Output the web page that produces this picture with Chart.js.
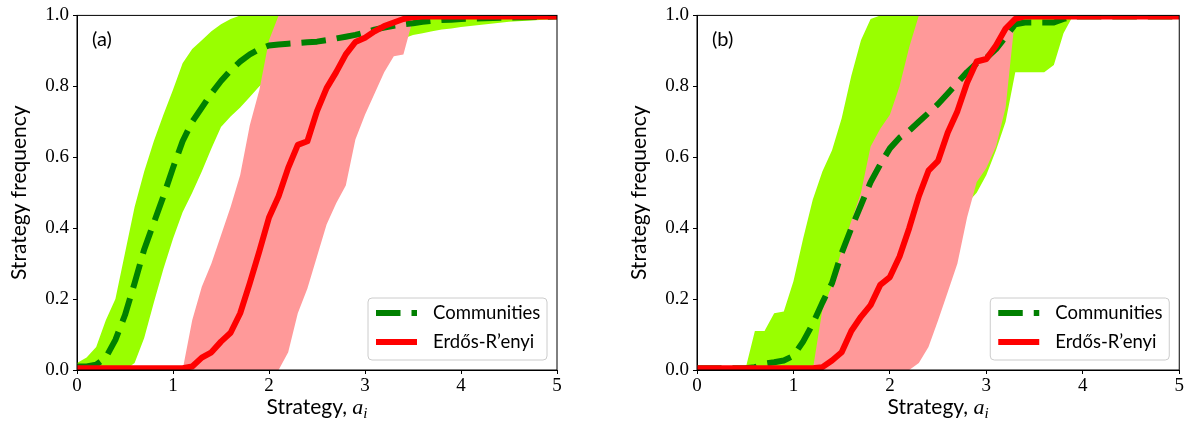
<!DOCTYPE html>
<html>
<head>
<meta charset="utf-8">
<title>Strategy frequency</title>
<script src="https://cdn.jsdelivr.net/npm/chart.js@4.4.1/dist/chart.umd.min.js"></script>
<style>
  html, body { margin:0; padding:0; background:#fff; }
  #wrap { position:relative; width:1185px; height:423px; overflow:hidden; }
  #wrap canvas { position:absolute; top:0; }
  #chartA { left:0; }
  #chartB { left:620px; }
</style>
</head>
<body>
<div id="wrap">
  <canvas id="chartA" width="590" height="423"></canvas>
  <canvas id="chartB" width="565" height="423"></canvas>
</div>
<script>
// strategy grid shared by all curves
const xs = [0,0.1,0.2,0.3,0.4,0.5,0.6,0.7,0.8,0.9,1,1.1,1.2,1.3,1.4,1.5,1.6,1.7,1.8,1.9,2,2.1,2.2,2.3,2.4,2.5,2.6,2.7,2.8,2.9,3,3.1,3.2,3.3,3.4,3.5,3.6,3.7,3.8,3.9,4,4.5,5];
const xTicks = [0,1,2,3,4,5];
const yTicks = [0,0.2,0.4,0.6,0.8,1.0];
const seriesNames = ['Communities', 'Erdős-R’enyi'];

// (a)
const commMeanA = [0.01,0.01,0.015,0.035,0.085,0.155,0.245,0.34,0.415,0.49,0.57,0.645,0.70,0.74,0.78,0.815,0.845,0.87,0.89,0.905,0.915,0.918,0.92,0.922,0.924,0.926,0.93,0.935,0.94,0.945,0.952,0.96,0.966,0.971,0.975,0.978,0.982,0.985,0.987,0.988,0.99,0.994,0.997];
const commUpA   = [0.02,0.035,0.065,0.14,0.2,0.33,0.46,0.56,0.645,0.72,0.79,0.865,0.905,0.93,0.955,0.975,0.99,1,1,1,1,1,1,1,1,1,1,1,1,1,1,1,1,1,1,1,1,1,1,1,1,1,1];
const commLowA  = [0,0,0,0,0,0,0.02,0.09,0.19,0.285,0.37,0.445,0.5,0.56,0.625,0.685,0.715,0.74,0.77,0.8,0.82,0.835,0.85,0.86,0.87,0.88,0.89,0.9,0.905,0.91,0.915,0.92,0.925,0.93,0.935,0.945,0.95,0.955,0.96,0.963,0.967,0.982,0.99];
const erMeanA   = [0.005,0.005,0.005,0.005,0.005,0.005,0.005,0.005,0.005,0.005,0.005,0.005,0.01,0.035,0.05,0.08,0.105,0.16,0.245,0.335,0.43,0.49,0.57,0.635,0.645,0.73,0.795,0.84,0.89,0.925,0.937,0.955,0.97,0.98,0.99,0.995,0.997,0.997,0.997,0.997,0.997,0.997,0.997];
const erUpA     = [0,0,0,0,0,0,0,0,0,0,0,0,0.14,0.235,0.3,0.38,0.46,0.55,0.69,0.79,0.93,1,1,1,1,1,1,1,1,1,1,1,1,1,1,1,1,1,1,1,1,1,1];
const erLowA    = [0,0,0,0,0,0,0,0,0,0,0,0,0,0,0,0,0,0,0,0,0,0,0.05,0.16,0.23,0.32,0.41,0.47,0.52,0.65,0.72,0.78,0.84,0.885,0.89,0.99,1,1,1,1,1,1,1];

// (b)
const commMeanB = [0.005,0.005,0.005,0.005,0.005,0.005,0.008,0.018,0.022,0.027,0.04,0.08,0.13,0.19,0.245,0.33,0.4,0.465,0.53,0.58,0.625,0.655,0.675,0.7,0.725,0.75,0.78,0.81,0.84,0.865,0.88,0.905,0.94,0.975,0.98,0.98,0.98,0.98,0.99,0.997,0.997,0.997,0.997];
const commUpB   = [0,0,0,0,0,0,0.11,0.11,0.16,0.165,0.25,0.37,0.48,0.56,0.62,0.71,0.83,0.93,0.99,1,1,1,1,1,1,1,1,1,1,1,1,1,1,1,1,1,1,1,1,1,1,1,1];
const commLowB  = [0,0,0,0,0,0,0,0,0,0,0,0,0,0.05,0.1,0.15,0.2,0.25,0.3,0.33,0.36,0.38,0.4,0.42,0.43,0.44,0.45,0.46,0.47,0.5,0.55,0.62,0.7,0.84,0.84,0.84,0.84,0.86,0.95,1,1,1,1];
const erMeanB   = [0.005,0.005,0.005,0.005,0.005,0.005,0.005,0.005,0.005,0.005,0.005,0.005,0.005,0.008,0.027,0.05,0.11,0.15,0.183,0.24,0.262,0.32,0.4,0.49,0.562,0.59,0.67,0.73,0.81,0.87,0.877,0.915,0.963,0.99,0.997,0.997,0.997,0.997,0.997,0.997,0.997,0.997,0.997];
const erUpB     = [0,0,0,0,0,0,0,0,0,0,0,0,0,0.17,0.24,0.34,0.42,0.5,0.63,0.68,0.72,0.8,0.91,1,1,1,1,1,1,1,1,1,1,1,1,1,1,1,1,1,1,1,1];
const erLowB    = [0,0,0,0,0,0,0,0,0,0,0,0,0,0,0,0,0,0,0,0,0,0,0,0.02,0.065,0.14,0.22,0.3,0.43,0.53,0.57,0.63,0.74,1,1,1,1,1,1,1,1,1,1];

const SANS = 'Lato';
const SERIF = '"Liberation Serif"';

function pts(vals){ return xs.map((x,i)=>({ x, y: vals[i] })); }

// spines on all four sides, drawn above the data
const framePlugin = {
  id: 'frame',
  afterDatasetsDraw(chart){
    const { ctx, chartArea: a } = chart;
    ctx.save();
    ctx.strokeStyle = '#000';
    ctx.lineWidth = 1;
    ctx.strokeRect(a.left, a.top, a.right - a.left, a.bottom - a.top);
    ctx.restore();
  }
};

// "(a)" / "(b)" tag in the upper left corner
const tagPlugin = {
  id: 'tag',
  afterDraw(chart, args, opts){
    const { ctx, chartArea: a } = chart;
    ctx.save();
    ctx.fillStyle = '#000';
    ctx.font = `20px ${SANS}`;
    ctx.textBaseline = 'middle';
    ctx.fillText(opts.text, a.left + 15, a.top + 24);
    ctx.restore();
  }
};

// x title with an italic a_i
const xTitlePlugin = {
  id: 'xTitle',
  afterDraw(chart){
    const { ctx, chartArea: a } = chart;
    const base = 414;
    ctx.save();
    ctx.fillStyle = '#000';
    ctx.textBaseline = 'alphabetic';
    ctx.font = `21px ${SANS}`;
    const w1 = ctx.measureText('Strategy, ').width;
    ctx.font = `italic 22px ${SERIF}`;
    const w2 = ctx.measureText('a').width;
    ctx.font = `italic 15px ${SERIF}`;
    const w3 = ctx.measureText('i').width;
    let x = (a.left + a.right) / 2 - (w1 + w2 + w3) / 2;
    ctx.font = `21px ${SANS}`;
    ctx.fillText('Strategy, ', x, base);
    x += w1;
    ctx.font = `italic 22px ${SERIF}`;
    ctx.fillText('a', x, base);
    x += w2;
    ctx.font = `italic 15px ${SERIF}`;
    ctx.fillText('i', x, base + 4);
    ctx.restore();
  }
};

// framed legend in the lower right of the plot
const boxLegendPlugin = {
  id: 'boxLegend',
  afterDraw(chart){
    const { ctx, chartArea: a } = chart;
    const items = chart.data.datasets.filter(d => d.label);
    const w = 179, h = 62;
    const x0 = a.right - 10 - w, y0 = a.bottom - 10 - h;
    ctx.save();
    ctx.beginPath();
    ctx.roundRect(x0, y0, w, h, 4);
    ctx.fillStyle = 'rgba(255,255,255,0.8)';
    ctx.fill();
    ctx.strokeStyle = '#cccccc';
    ctx.lineWidth = 1;
    ctx.stroke();
    items.forEach((d, i) => {
      const y = y0 + 15 + i * 29;
      ctx.beginPath();
      ctx.setLineDash(d.borderDash || []);
      ctx.lineWidth = d.borderWidth;
      ctx.strokeStyle = d.borderColor;
      ctx.lineCap = 'butt';
      ctx.moveTo(x0 + 8, y);
      ctx.lineTo(x0 + 49, y);
      ctx.stroke();
      ctx.setLineDash([]);
      ctx.fillStyle = '#000';
      ctx.font = `18.5px ${SANS}`;
      ctx.textBaseline = 'middle';
      ctx.fillText(d.label, x0 + 65, y);
    });
    ctx.restore();
  }
};

function makeChart(id, tag, s, padRight){
  const band = { pointRadius: 0, borderWidth: 0, borderColor: 'transparent', tension: 0, clip: 0 };
  return new Chart(document.getElementById(id), {
    type: 'line',
    data: {
      datasets: [
        { ...band, data: pts(s.commLow), fill: false, order: 6 },
        { ...band, data: pts(s.commUp), fill: 0, backgroundColor: '#99ff00', order: 5 },
        { ...band, data: pts(s.erLow), fill: false, order: 4 },
        { ...band, data: pts(s.erUp), fill: 2, backgroundColor: '#ff9999', order: 3 },
        { label: seriesNames[0], data: pts(s.commMean), borderColor: '#008000', borderWidth: 6,
          borderDash: [24.5, 11], borderCapStyle: 'butt', borderJoinStyle: 'round',
          pointRadius: 0, fill: false, tension: 0, clip: 0, order: 2 },
        { label: seriesNames[1], data: pts(s.erMean), borderColor: '#ff0000', borderWidth: 6,
          borderJoinStyle: 'round', pointRadius: 0, fill: false, tension: 0, clip: 0, order: 1 }
      ]
    },
    options: {
      responsive: false,
      animation: false,
      devicePixelRatio: 1,
      layout: { padding: { top: 12, right: padRight, bottom: 0, left: 0 } },
      plugins: {
        legend: { display: false },
        tooltip: { enabled: false },
        tag: { text: tag }
      },
      scales: {
        x: {
          type: 'linear', min: 0, max: 5,
          afterBuildTicks: sc => { sc.ticks = xTicks.map(v => ({ value: v })); },
          afterFit: sc => { sc.height = 53; },
          ticks: { color: '#000', padding: 1, maxRotation: 0, autoSkip: false,
                   font: { family: 'Liberation Serif', size: 19 }, callback: v => String(v) },
          grid: { drawOnChartArea: false, drawTicks: true, tickLength: 4, tickColor: '#000', tickWidth: 1 },
          border: { display: true, color: '#000', width: 1 }
        },
        y: {
          min: 0, max: 1,
          afterBuildTicks: sc => { sc.ticks = yTicks.map(v => ({ value: v })); },
          afterFit: sc => { sc.width = 77; },
          ticks: { color: '#000', padding: 4,
                   font: { family: 'Liberation Serif', size: 19 }, callback: v => v.toFixed(1) },
          grid: { drawOnChartArea: false, drawTicks: true, tickLength: 4, tickColor: '#000', tickWidth: 1 },
          border: { display: true, color: '#000', width: 1 },
          title: { display: true, text: 'Strategy frequency', color: '#000',
                   font: { family: SANS, size: 21 }, padding: { top: 7, bottom: 0 } }
        }
      }
    },
    plugins: [framePlugin, tagPlugin, xTitlePlugin, boxLegendPlugin]
  });
}

makeChart('chartA', '(a)', {
  commMean: commMeanA, commUp: commUpA, commLow: commLowA,
  erMean: erMeanA, erUp: erUpA, erLow: erLowA
}, 33);

makeChart('chartB', '(b)', {
  commMean: commMeanB, commUp: commUpB, commLow: commLowB,
  erMean: erMeanB, erUp: erUpB, erLow: erLowB
}, 5.5);
</script>
</body>
</html>
